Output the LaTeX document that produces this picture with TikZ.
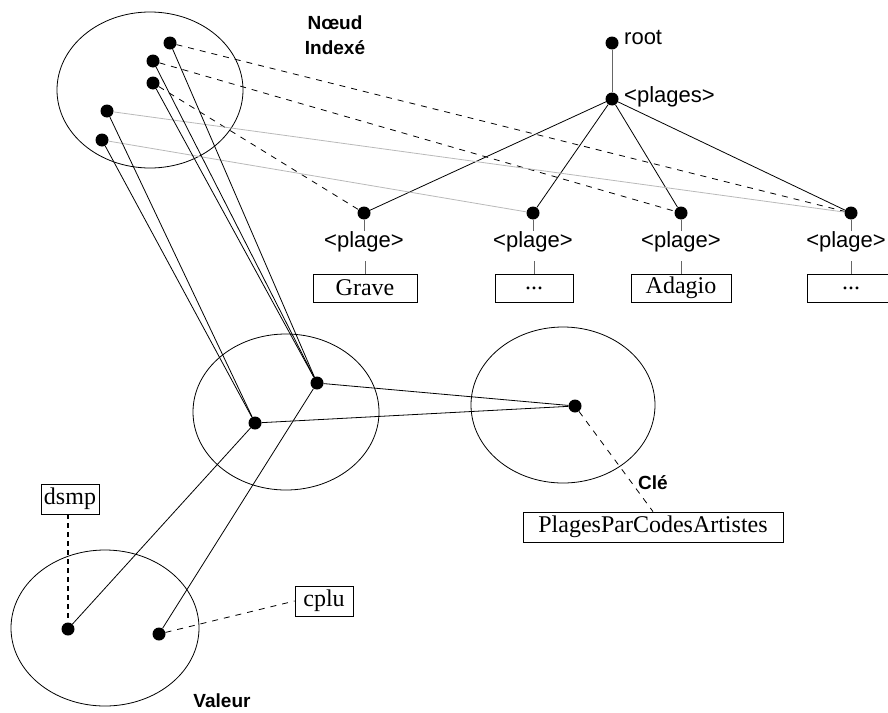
\documentclass[tikz,border=0pt]{standalone}
\usepackage{fontspec}
\setmainfont{Liberation Serif}
\newfontfamily\sansf{Liberation Sans}
\begin{document}
\begin{tikzpicture}[x=1pt,y=-1pt,
  dot/.style={circle,fill=black,inner sep=0pt,minimum size=13pt},
  lbl/.style={font=\sansf\fontsize{22}{24}\selectfont,inner sep=0pt},
  plbl/.style={lbl,text depth=14pt},
  boldlbl/.style={font=\sansf\bfseries\fontsize{19}{25}\selectfont,inner sep=0pt,align=center},
  vbox/.style={draw,line width=0.8pt,font=\fontsize{24}{26}\selectfont,inner sep=0pt,minimum height=28pt},
  link/.style={line width=0.8pt},
  dsh/.style={line width=0.8pt,dash pattern=on 6pt off 6pt},
  thickdsh/.style={line width=1.6pt,dash pattern=on 5pt off 4pt},
  light/.style={line width=0.8pt,gray!55},
  stem/.style={line width=0.8pt,gray!80!black},
  ell/.style={line width=0.8pt}]
\useasboundingbox (0,0) rectangle (888,712);
\clip (0,0) rectangle (888,712);

% ellipses
\draw[ell] (150,90) ellipse [x radius=93,y radius=78];
\draw[ell] (286,412) ellipse [x radius=93,y radius=78];
\draw[ell] (563,405) ellipse [x radius=92,y radius=78];
\draw[ell] (105,628) ellipse [x radius=94,y radius=78];

% dots
\node[dot] (a) at (170,43) {};
\node[dot] (b) at (153,61) {};
\node[dot] (c) at (153,83) {};
\node[dot] (d) at (107,111) {};
\node[dot] (e) at (102,140) {};
\node[dot] (f) at (317,383) {};
\node[dot] (g) at (255,423) {};
\node[dot] (h) at (575,406) {};
\node[dot] (i) at (68,629) {};
\node[dot] (j) at (159,634) {};
\node[dot] (root) at (612,43) {};
\node[dot] (pl) at (612,99) {};
\node[dot] (l1) at (364,213) {};
\node[dot] (l2) at (533,213) {};
\node[dot] (l3) at (681,213) {};
\node[dot] (l4) at (851,213) {};

% labels
\node[lbl,anchor=base west] (rootl) at (624,44) {root};
\node[lbl,anchor=base west] (pll) at (624,102) {<plages>};
\node[plbl,anchor=base] (t1) at (364,247) {<plage>};
\node[plbl,anchor=base] (t2) at (533,247) {<plage>};
\node[plbl,anchor=base] (t3) at (681,247) {<plage>};
\node[plbl,anchor=base] (t4) at (846,247) {<plage>};

\node[boldlbl] (nd) at (335,35) {Nœud\\Indexé};
\node[boldlbl,anchor=base] (cle) at (653,489) {Clé};
\node[boldlbl,anchor=base] (val) at (222,707) {Valeur};

% boxes
\node[vbox,minimum width=104pt] (v1) at (365,288) {Grave};
\node[vbox,minimum width=78pt] (v2) at (534,288) {...};
\node[vbox,minimum width=100pt] (v3) at (681,288) {Adagio};
\node[vbox,minimum width=88pt] (v4) at (851,288) {...};
\node[vbox,minimum width=58pt,minimum height=30pt] (dsmp) at (70,499) {dsmp};
\node[vbox,minimum width=58pt,minimum height=30pt] (cplu) at (324,601) {cplu};
\node[vbox,minimum width=260pt,minimum height=30pt] (key) at (653,527) {PlagesParCodesArtistes};

% tree
\draw[stem] (root) -- (pl);
\draw[link] (pl) -- (l1);
\draw[link] (pl) -- (l2);
\draw[link] (pl) -- (l3);
\draw[link] (pl) -- (l4);
\foreach \k in {1,2,3,4}{
  \draw[stem] (l\k) -- (l\k |- t\k.north);
  \draw[stem] (v\k.north) -- (v\k |- t\k.south);
}

% dashed / light links from indexed nodes to leaves
\draw[dsh] (a) -- (l4);
\draw[dsh] (b) -- (l3);
\draw[dsh] (c) -- (l1);
\draw[light] (d) -- (l4);
\draw[light] (e) -- (l2);

% solid links to middle ellipse
\draw[link] (a) -- (f);
\draw[link] (b) -- (f);
\draw[link] (c) -- (f);
\draw[link] (d) -- (g);
\draw[link] (e) -- (g);

\draw[link] (f) -- (h);
\draw[link] (g) -- (h);
\draw[link] (g) -- (i);
\draw[link] (f) -- (j);

% key & value labels
\draw[dsh] (h) -- (key.north);
\draw[thickdsh] (dsmp.south -| i) -- (i);
\draw[dsh] (j) -- (cplu.west);
\end{tikzpicture}
\end{document}
